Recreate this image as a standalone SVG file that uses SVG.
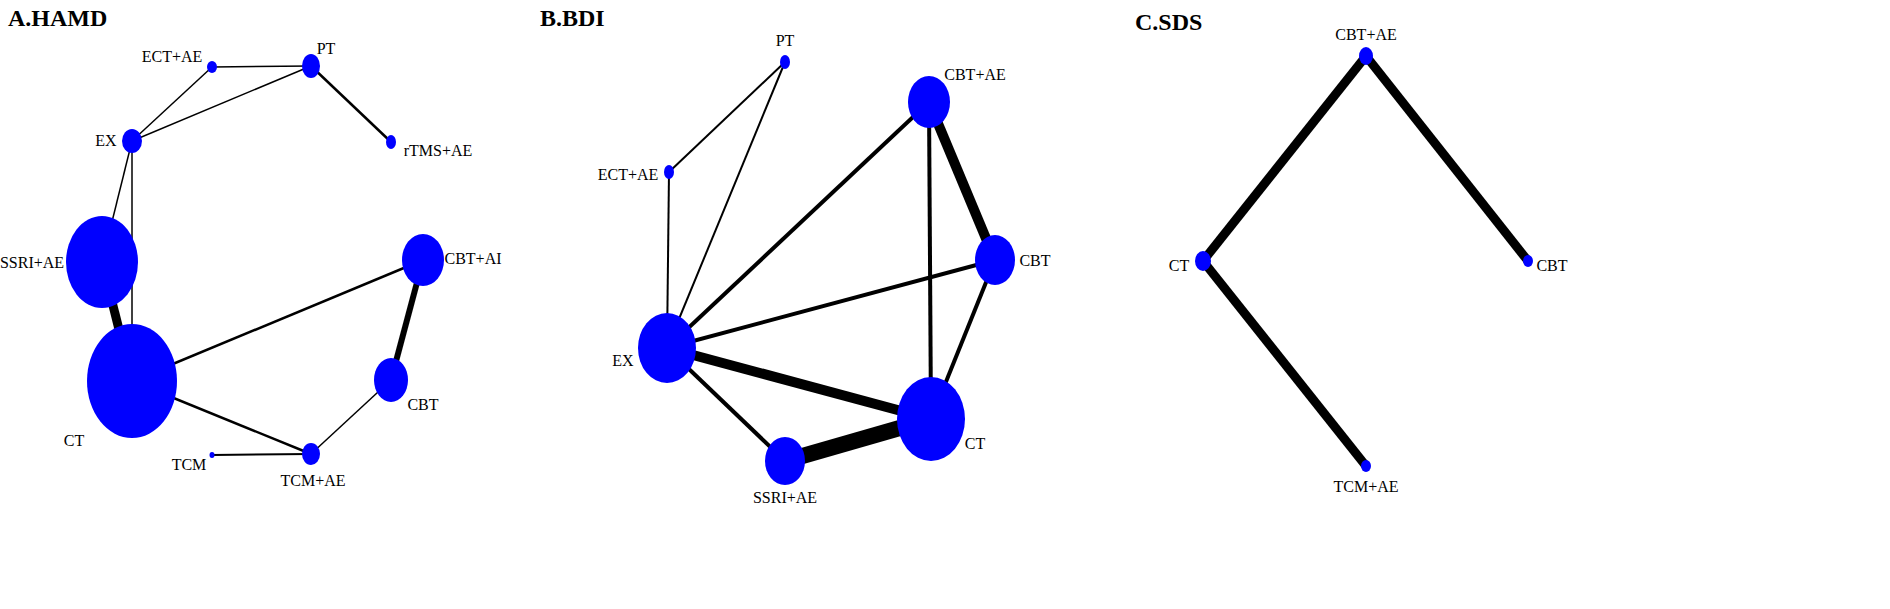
<svg xmlns="http://www.w3.org/2000/svg" width="1890" height="609" viewBox="0 0 1890 609">
<style>
.n{fill:#0000ff}
.t{font-family:"Liberation Serif",serif;font-size:16px;fill:#000}
.h{font-family:"Liberation Serif",serif;font-size:24px;font-weight:bold;fill:#000}
#edges line{stroke:#000;stroke-linecap:butt}
</style>
<rect width="1890" height="609" fill="#fff"/>
<text class="h" x="8" y="26">A.HAMD</text>
<text class="h" x="540" y="26">B.BDI</text>
<text class="h" x="1135" y="30">C.SDS</text>
<g id="edges">
<line x1="212" y1="67" x2="311" y2="66" stroke-width="1.5"/>
<line x1="212" y1="67" x2="132" y2="141" stroke-width="1.5"/>
<line x1="311" y1="66" x2="132" y2="141" stroke-width="1.5"/>
<line x1="311" y1="66" x2="391" y2="142" stroke-width="2.5"/>
<line x1="132" y1="141" x2="102" y2="262" stroke-width="1.5"/>
<line x1="132" y1="141" x2="132" y2="381" stroke-width="1.5"/>
<line x1="102" y1="262" x2="132" y2="381" stroke-width="9"/>
<line x1="132" y1="381" x2="423" y2="260" stroke-width="2.5"/>
<line x1="423" y1="260" x2="391" y2="380" stroke-width="6"/>
<line x1="132" y1="381" x2="311" y2="454" stroke-width="2.5"/>
<line x1="311" y1="454" x2="391" y2="380" stroke-width="1.5"/>
<line x1="212" y1="455" x2="311" y2="454" stroke-width="2"/>
<line x1="785" y1="62" x2="669" y2="172" stroke-width="2"/>
<line x1="785" y1="62" x2="667" y2="348" stroke-width="2"/>
<line x1="669" y1="172" x2="667" y2="348" stroke-width="2"/>
<line x1="667" y1="348" x2="929" y2="102" stroke-width="4"/>
<line x1="667" y1="348" x2="995" y2="260" stroke-width="4"/>
<line x1="667" y1="348" x2="931" y2="419" stroke-width="10"/>
<line x1="667" y1="348" x2="785" y2="461" stroke-width="4"/>
<line x1="785" y1="461" x2="931" y2="419" stroke-width="16"/>
<line x1="929" y1="102" x2="995" y2="260" stroke-width="10"/>
<line x1="929" y1="102" x2="931" y2="419" stroke-width="4"/>
<line x1="995" y1="260" x2="931" y2="419" stroke-width="4"/>
<line x1="1366" y1="56" x2="1203" y2="261" stroke-width="9"/>
<line x1="1366" y1="56" x2="1528" y2="261" stroke-width="9"/>
<line x1="1203" y1="261" x2="1366" y2="466" stroke-width="9"/>
</g>
<g id="A_ECTAE"><ellipse class="n" cx="212" cy="67" rx="5" ry="6"/><text class="t" x="172" y="62" text-anchor="middle">ECT+AE</text></g>
<g id="A_PT"><ellipse class="n" cx="311" cy="66" rx="9" ry="12"/><text class="t" x="326" y="54" text-anchor="middle">PT</text></g>
<g id="A_rTMSAE"><ellipse class="n" cx="391" cy="142" rx="5" ry="7"/><text class="t" x="438" y="156" text-anchor="middle">rTMS+AE</text></g>
<g id="A_EX"><ellipse class="n" cx="132" cy="141" rx="10" ry="12"/><text class="t" x="106" y="146" text-anchor="middle">EX</text></g>
<g id="A_SSRIAE"><ellipse class="n" cx="102" cy="262" rx="36" ry="46"/><text class="t" x="32" y="268" text-anchor="middle">SSRI+AE</text></g>
<g id="A_CT"><ellipse class="n" cx="132" cy="381" rx="45" ry="57"/><text class="t" x="74" y="446" text-anchor="middle">CT</text></g>
<g id="A_CBTAE"><ellipse class="n" cx="423" cy="260" rx="21" ry="26"/><text class="t" x="473" y="264" text-anchor="middle">CBT+AI</text></g>
<g id="A_CBT"><ellipse class="n" cx="391" cy="380" rx="17" ry="22"/><text class="t" x="423" y="410" text-anchor="middle">CBT</text></g>
<g id="A_TCM"><ellipse class="n" cx="212" cy="455" rx="2.5" ry="3"/><text class="t" x="189" y="470" text-anchor="middle">TCM</text></g>
<g id="A_TCMAE"><ellipse class="n" cx="311" cy="454" rx="9" ry="11"/><text class="t" x="313" y="486" text-anchor="middle">TCM+AE</text></g>
<g id="B_PT"><ellipse class="n" cx="785" cy="62" rx="5" ry="7"/><text class="t" x="785" y="46" text-anchor="middle">PT</text></g>
<g id="B_ECTAE"><ellipse class="n" cx="669" cy="172" rx="5" ry="7"/><text class="t" x="628" y="180" text-anchor="middle">ECT+AE</text></g>
<g id="B_CBTAE"><ellipse class="n" cx="929" cy="102" rx="21" ry="26"/><text class="t" x="975" y="80" text-anchor="middle">CBT+AE</text></g>
<g id="B_CBT"><ellipse class="n" cx="995" cy="260" rx="20" ry="25"/><text class="t" x="1035" y="266" text-anchor="middle">CBT</text></g>
<g id="B_EX"><ellipse class="n" cx="667" cy="348" rx="29" ry="35"/><text class="t" x="623" y="366" text-anchor="middle">EX</text></g>
<g id="B_CT"><ellipse class="n" cx="931" cy="419" rx="34" ry="42"/><text class="t" x="975" y="449" text-anchor="middle">CT</text></g>
<g id="B_SSRIAE"><ellipse class="n" cx="785" cy="461" rx="20" ry="24"/><text class="t" x="785" y="503" text-anchor="middle">SSRI+AE</text></g>
<g id="C_CBTAE"><ellipse class="n" cx="1366" cy="56" rx="7" ry="9"/><text class="t" x="1366" y="40" text-anchor="middle">CBT+AE</text></g>
<g id="C_CT"><ellipse class="n" cx="1203" cy="261" rx="8" ry="10"/><text class="t" x="1179" y="271" text-anchor="middle">CT</text></g>
<g id="C_CBT"><ellipse class="n" cx="1528" cy="261" rx="5" ry="6"/><text class="t" x="1552" y="271" text-anchor="middle">CBT</text></g>
<g id="C_TCMAE"><ellipse class="n" cx="1366" cy="466" rx="5" ry="6"/><text class="t" x="1366" y="492" text-anchor="middle">TCM+AE</text></g>
</svg>
